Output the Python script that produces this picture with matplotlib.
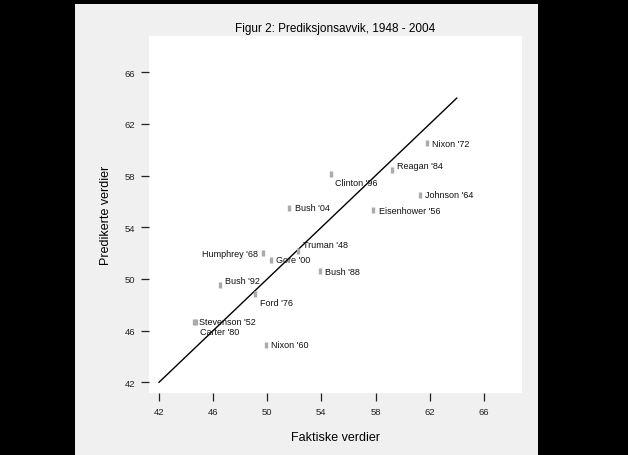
import matplotlib
matplotlib.use('Agg')
import matplotlib.pyplot as plt
from matplotlib.patches import Rectangle

plt.rcParams['font.family'] = ['Liberation Sans', 'DejaVu Sans']

# faktiske og predikerte verdier per valg
NAMES = ["Truman '48", "Stevenson '52", "Eisenhower '56", "Nixon '60", "Johnson '64",
         "Humphrey '68", "Nixon '72", "Ford '76", "Carter '80", "Reagan '84",
         "Bush '88", "Bush '92", "Clinton '96", "Gore '00", "Bush '04"]
ACTUAL = [52.3, 44.6, 57.8, 49.9, 61.3, 49.7, 61.8, 49.1, 44.7, 59.2, 53.9, 46.5, 54.7, 50.3, 51.6]
PREDICTED = [52.2, 46.7, 55.3, 44.9, 56.5, 52.0, 60.5, 48.8, 46.7, 58.4, 50.6, 49.5, 58.1, 51.5, 55.5]
LINE = [42, 64]
TICKS = [42, 46, 50, 54, 58, 62, 66]

# label offsets in pixels (dx, dy)
OFFSETS = [(5, 6), (5, 0), (6, 0), (5, 0), (5, 0),
           (-5, 0), (5, 0), (5, -8), (4, -10), (5, 5),
           (5, 0), (5, 5), (4, -8), (5, 0), (6, 0)]

fig = plt.figure(figsize=(6.28, 4.56), dpi=100)
fig.patch.set_facecolor('black')
bg = Rectangle((75 / 628., 0), (538 - 75) / 628., (456 - 5) / 456.,
               transform=fig.transFigure, facecolor='#f0f0f0', edgecolor='none', zorder=-10)
fig.add_artist(bg)

ax = fig.add_axes([149 / 628., 62 / 456., (521.7 - 149) / 628., (394 - 37) / 456.])
ax.set_facecolor('white')
for s in ax.spines.values():
    s.set_visible(False)

ax.plot(LINE, LINE, color='black', lw=1)
ax.plot(ACTUAL, PREDICTED, linestyle='none', marker='|', markersize=4,
        markeredgewidth=2.4, color='#ababab')

for name, x, y, (dx, dy) in zip(NAMES, ACTUAL, PREDICTED, OFFSETS):
    ha = 'right' if dx < 0 else 'left'
    ax.annotate(name, (x, y), xytext=(dx, dy), textcoords='offset pixels',
                ha=ha, va='center', fontsize=6.5, color='#111111')

ax.set_xlim(41.26, 68.8)
ax.set_ylim(41.17, 68.81)
ax.set_xticks(TICKS)
ax.set_yticks(TICKS)
ax.tick_params(axis='both', direction='out', length=5.8, width=0.9, labelsize=6.8,
               colors='#222222', pad=4)

ax.set_title('Figur 2: Prediksjonsavvik, 1948 - 2004', fontsize=8.5, pad=3.5)
ax.set_xlabel('Faktiske verdier', fontsize=9, labelpad=11)
ax.set_ylabel('Predikerte verdier', fontsize=9, labelpad=9)

fig.savefig('out.png', dpi=100, facecolor=fig.get_facecolor())
